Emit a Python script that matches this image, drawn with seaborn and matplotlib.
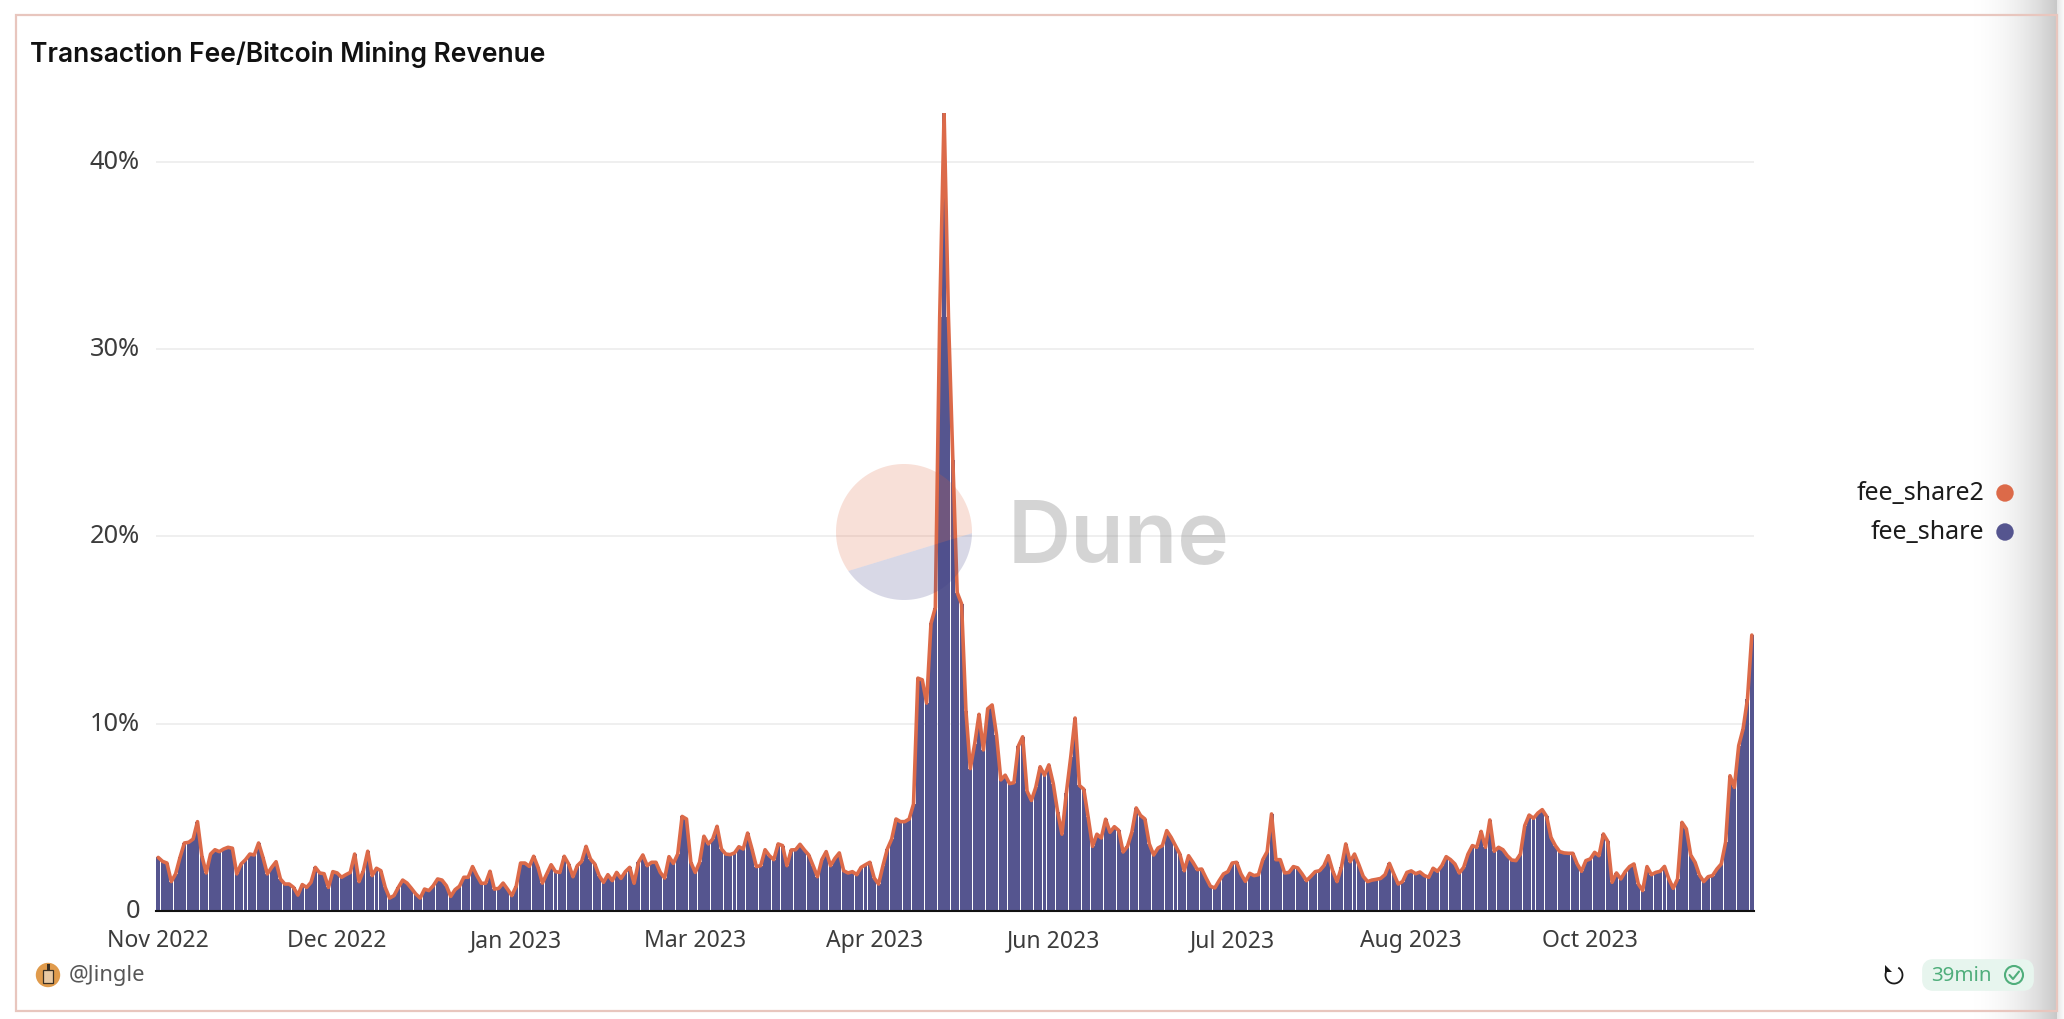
import numpy as np
import pandas as pd
import matplotlib
matplotlib.use("Agg")
import matplotlib.pyplot as plt
import matplotlib.transforms as mtransforms
import seaborn as sns
from matplotlib.patches import Circle, Polygon, FancyBboxPatch, Rectangle, Arc

# values in percent, one list per stretch of the axis
nov_jan = [
    2.86, 2.65, 2.56, 1.57, 1.98, 2.86, 3.63, 3.67, 3.84, 4.77,
    2.95, 2.03, 3.04, 3.27, 3.17, 3.31, 3.40, 3.35, 1.98, 2.51,
    2.74, 3.04, 2.99, 3.63, 2.86, 1.98, 2.33, 2.63, 1.71, 1.44,
    1.44, 1.26, 0.85, 1.41, 1.26, 1.53, 2.33, 2.03, 1.99, 1.26,
    2.10, 2.03, 1.80, 1.94, 2.06, 3.04, 1.57, 2.15, 3.19, 1.89,
    2.28, 2.15, 1.26, 0.69, 0.82, 1.26, 1.65, 1.49, 1.21, 0.91,
    0.69, 1.17, 1.09, 1.35, 1.71, 1.65, 1.35, 0.78, 1.14, 1.32,
    1.80, 1.80, 2.37, 1.89, 1.48, 1.48, 2.12, 1.17, 1.21, 1.49,
    1.17, 0.82, 1.32, 2.56, 2.56, 2.38, 2.92, 2.33, 1.49, 1.98,
]
feb_apr = [
    2.47, 2.10, 2.06, 2.92, 2.51, 1.83, 2.42, 2.65, 3.45, 2.78,
    2.51, 1.89, 1.53, 1.94, 1.62, 2.06, 1.74, 2.10, 2.33, 1.48,
    2.60, 2.99, 2.42, 2.60, 2.60, 2.06, 1.76, 2.90, 2.54, 3.04,
    5.05, 4.91, 2.60, 2.06, 2.60, 3.99, 3.58, 3.84, 4.52, 3.31,
    3.04, 3.01, 3.10, 3.43, 3.31, 4.16, 3.31, 2.37, 2.42, 3.27,
    2.95, 2.74, 3.58, 3.49, 2.42, 3.26, 3.27, 3.56, 3.26, 2.99,
    2.42, 1.83, 2.74, 3.17, 2.42, 2.81, 3.10, 2.15, 2.03, 2.10,
    1.94, 2.33, 2.47, 2.60, 1.76, 1.44, 2.42, 3.31, 3.84, 4.91,
    4.77, 4.77, 4.91, 5.71,
]
may_jun = [
    12.43, 12.34, 11.10, 15.35, 16.20, 31.70, 42.60, 31.70, 24.10, 17.00,
    16.40, 10.70, 7.60, 8.90, 10.50, 8.60, 10.80, 11.00, 9.40, 7.00,
    7.25, 6.80, 6.85, 8.80, 9.30, 6.40, 5.90, 6.60, 7.70, 7.25,
    7.80, 6.80, 5.30, 4.10, 6.30, 8.20, 10.30, 6.70, 6.50, 5.00,
    3.45, 4.10, 3.90, 4.90, 4.20, 4.50, 4.30, 3.15, 3.45, 4.20,
    5.50, 5.10,
]
jul_sep = [
    4.91, 3.58, 2.99, 3.36, 3.49, 4.29, 3.93, 3.49, 3.04, 2.15,
    2.95, 2.60, 2.21, 2.24, 1.76, 1.32, 1.23, 1.62, 1.98, 2.10,
    2.56, 2.60, 1.98, 1.58, 2.01, 1.89, 1.94, 2.74, 3.17, 5.18,
    2.74, 2.74, 2.03, 2.06, 2.37, 2.30, 1.98, 1.62, 1.85, 2.10,
    2.15, 2.42, 2.95, 2.15, 1.57, 2.33, 3.58, 2.63, 3.04, 2.47,
    1.85, 1.57, 1.65, 1.69, 1.74, 1.94, 2.54, 1.98, 1.44, 1.57,
    2.06, 2.14, 1.99, 2.08, 1.89, 1.80, 2.28, 2.12, 2.42, 2.90,
    2.74, 2.51, 2.03, 2.33, 3.04, 3.49, 3.40, 4.25, 3.40, 4.86,
    3.19, 3.40, 3.27, 2.95, 2.72, 2.69, 3.04,
]
oct_nov = [
    4.56, 5.12, 4.95, 5.23, 5.41, 5.05, 3.93, 3.49, 3.17, 3.10,
    3.08, 3.08, 2.51, 2.12, 2.69, 2.78, 3.13, 2.95, 4.11, 3.72,
    1.53, 2.03, 1.71, 2.10, 2.37, 2.51, 1.44, 1.09, 2.37, 1.94,
    2.06, 2.12, 2.38, 1.71, 1.21, 1.71, 4.73, 4.38, 2.99, 2.60,
    1.92, 1.57, 1.83, 1.89, 2.24, 2.51, 3.67, 7.22, 6.60, 8.83,
    9.72, 11.30, 14.73,
]
fee_share = nov_jan + feb_apr + may_jun + jul_sep + oct_nov
fee_share2 = list(fee_share)

y_ticks = [0, 10, 20, 30, 40]
y_labels = ["0", "10%", "20%", "30%", "40%"]

W, H = 2064, 1020
FONT = ["Inter", "Noto Sans", "DejaVu Sans"]
TICK_COLOR = "#3c3c3c"
BAR_COLOR = "#55558f"
LINE_COLOR = "#dc6a49"

sns.set_theme(style="white")
plt.rcParams["font.family"] = ["Noto Sans", "DejaVu Sans"]

dates = pd.date_range("2022-11-08", periods=len(fee_share), freq="D")
df = pd.DataFrame({
    "day": dates.strftime("%Y-%m-%d"),
    "pos": np.arange(len(fee_share)),
    "fee_share": fee_share,
    "fee_share2": fee_share2,
})

fig = plt.figure(figsize=(W / 100, H / 100), dpi=100, facecolor="white")
ax = fig.add_axes([156 / W, 1 - 912 / H, (1754 - 156) / W, (912 - 114) / H])

sns.barplot(data=df, x="day", y="fee_share", color=BAR_COLOR, saturation=1,
            width=0.91, linewidth=0, errorbar=None, ax=ax, zorder=3)
sns.lineplot(data=df, x="pos", y="fee_share2", color=LINE_COLOR, linewidth=2.6,
             errorbar=None, ax=ax, zorder=4)

ax.set_xlim(-0.5, len(fee_share) - 0.5)
ax.set_ylim(0, 42.6)
tick_pos = np.arange(0, len(fee_share), 41)[:9]
ax.set_xticks(tick_pos)
ax.set_xticklabels([dates[i].strftime("%b %Y") for i in tick_pos])
ax.set_yticks(y_ticks)
ax.set_yticklabels(y_labels)
ax.set_xlabel("")
ax.set_ylabel("")
ax.tick_params(axis="both", length=0, labelcolor=TICK_COLOR)
ax.tick_params(axis="x", pad=12.5, labelsize=16.5)
ax.tick_params(axis="y", pad=11.5, labelsize=18.3)
# y labels sit a little above their grid lines
lift = mtransforms.ScaledTranslation(0, 3.5 / 100, fig.dpi_scale_trans)
for label in ax.get_yticklabels():
    label.set_transform(label.get_transform() + lift)
ax.yaxis.grid(True, color="#efefef", linewidth=1.4, zorder=0)
ax.set_axisbelow(True)
sns.despine(ax=ax, left=True)
ax.spines["bottom"].set_color("#111111")
ax.spines["bottom"].set_linewidth(1.5)
ax.spines["bottom"].set_zorder(6)

# everything outside the plot lives on an overlay in pixel coordinates
over = fig.add_axes([0, 0, 1, 1], zorder=5)
over.patch.set_alpha(0)
over.axis("off")

shade = np.zeros((1, 200, 4))
shade[..., 3] = np.linspace(0, 1, 200) ** 2.4 * 0.22
over.imshow(shade, extent=[1955, 2057, H, 0], aspect="auto", zorder=1)
shade_r = np.zeros((1, 20, 4))
shade_r[..., 3] = np.linspace(0.1, 0.02, 20)
over.imshow(shade_r, extent=[2057, W, H, 0], aspect="auto", zorder=1)
over.set_xlim(0, W)
over.set_ylim(H, 0)

over.add_patch(Rectangle((15.5, 15.5), 2041, 996, fill=False, edgecolor="#e8c6be", linewidth=1.6, zorder=2))

over.text(30, 54, "Transaction Fee/Bitcoin Mining Revenue", family=FONT, fontsize=19,
          fontweight="semibold", color="#111111", va="center", ha="left")

# Dune watermark
cx, cy, r = 904, 533, 68
t = np.radians(np.linspace(-1, 215, 80))
lower = np.radians(np.linspace(-1, -145, 60))
over.add_patch(Polygon(np.c_[cx + r * np.cos(t), cy - r * np.sin(t)], closed=True,
                       facecolor="#e0643c", alpha=0.2, edgecolor="none", zorder=3))
over.add_patch(Polygon(np.c_[cx + r * np.cos(lower), cy - r * np.sin(lower)], closed=True,
                       facecolor="#3d3f86", alpha=0.2, edgecolor="none", zorder=3))
over.text(1008, 540, "Dune", family=FONT, fontsize=63, fontweight="semibold",
          color="#8a8a8a", alpha=0.36, va="center", ha="left", zorder=3)

# legend
for name, color, yy in [("fee_share2", LINE_COLOR, 494), ("fee_share", BAR_COLOR, 533)]:
    over.text(1984, yy, name, fontsize=18, color="#1c1c1c", ha="right", va="center")
    over.add_patch(Circle((2005, yy), 8.7, facecolor=color, edgecolor="none", zorder=3))

# footer
over.add_patch(Circle((48, 976), 12.2, facecolor="#e09b4c", edgecolor="none", zorder=3))
over.add_patch(Rectangle((43, 971), 10, 13, facecolor="#e8c9a4", edgecolor="#3a3024", linewidth=0.9, zorder=4))
over.add_patch(Rectangle((46.5, 965), 3, 6, facecolor="#3a3024", edgecolor="none", zorder=4))
over.text(69, 976, "@Jingle", fontsize=15.8, color="#565656", ha="left", va="center")

over.add_patch(Arc((1894, 976), 17, 17, theta1=-60, theta2=215, edgecolor="#1a1a1a", linewidth=1.3, zorder=3))
over.add_patch(Polygon([[1885, 966], [1885, 973], [1892, 973]], closed=True, facecolor="#1a1a1a", edgecolor="none", zorder=3))

over.add_patch(FancyBboxPatch((1927, 965), 102, 22, boxstyle="round,pad=0,rounding_size=6",
                              mutation_aspect=1, facecolor="#e7f5ee", edgecolor="#e7f5ee",
                              linewidth=7, joinstyle="round", zorder=2))
over.text(1931, 976, "39min", fontsize=14.8, color="#4fae7b", ha="left", va="center", zorder=3)
over.add_patch(Circle((2014, 976), 9, fill=False, edgecolor="#4fae7b", linewidth=1.5, zorder=3))
over.plot([2009.5, 2013, 2019], [976, 980, 972.5], color="#4fae7b", linewidth=1.5, zorder=3)
over.set_xlim(0, W)
over.set_ylim(H, 0)

fig.savefig("out.png", dpi=100, facecolor="white")
